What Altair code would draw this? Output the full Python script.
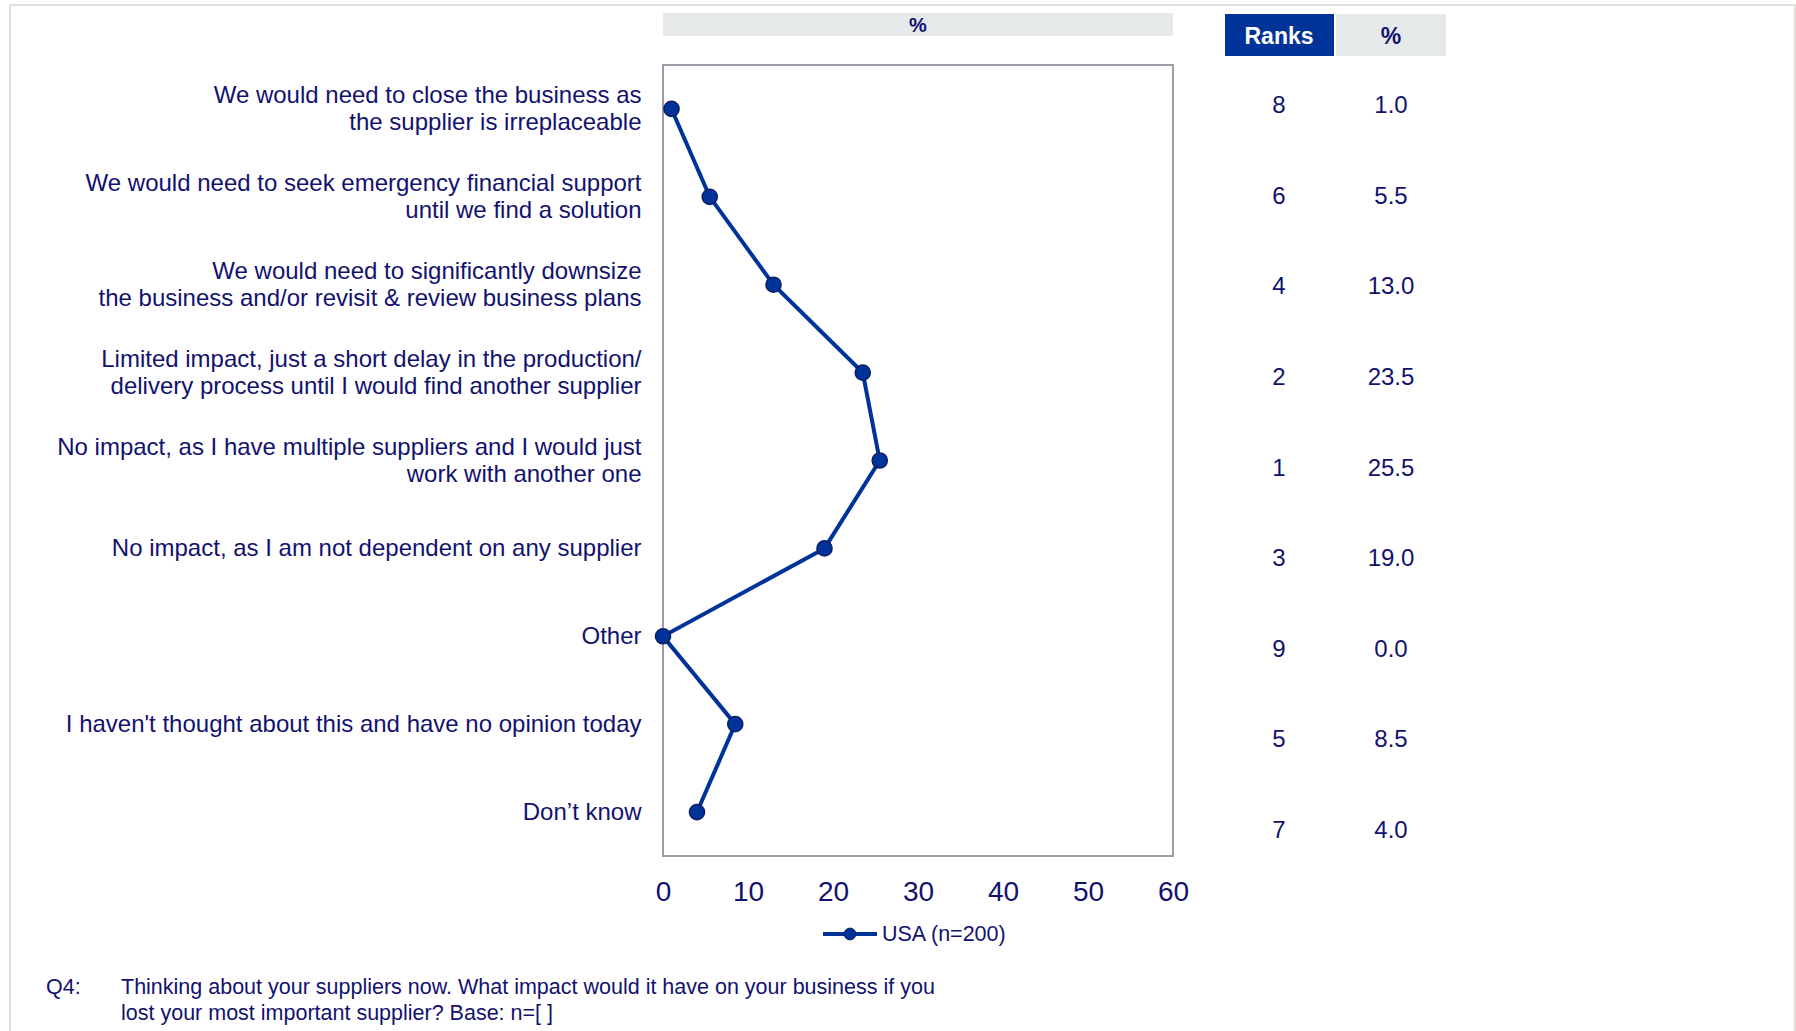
import altair as alt
import pandas as pd

categories = [
    "We would need to close the business as\nthe supplier is irreplaceable",
    "We would need to seek emergency financial support\nuntil we find a solution",
    "We would need to significantly downsize\nthe business and/or revisit & review business plans",
    "Limited impact, just a short delay in the production/\ndelivery process until I would find another supplier",
    "No impact, as I have multiple suppliers and I would just\nwork with another one",
    "No impact, as I am not dependent on any supplier",
    "Other",
    "I haven't thought about this and have no opinion today",
    "Don\u2019t know",
]
pct_values = [1.0, 5.5, 13.0, 23.5, 25.5, 19.0, 0.0, 8.5, 4.0]
ranks = [8, 6, 4, 2, 1, 3, 9, 5, 7]
series_name = "USA (n=200)"
x_ticks = [0, 10, 20, 30, 40, 50, 60]
header_main = "%"
header_rank = "Ranks"
header_pct = "%"
footer_q = "Q4:"
footer_lines = [
    "Thinking about your suppliers now. What impact would it have on your business if you",
    "lost your most important supplier? Base: n=[ ]",
]

df = pd.DataFrame({"cat": categories, "pct": pct_values, "rank": ranks,
                   "idx": list(range(len(categories)))})

NAVY = "#12126e"
BLUE = "#003399"
DOT_STROKE = "#0b1f66"
GRAY_BOX = "#e6e9e9"
FONT = "Liberation Sans"

W, H = 510, 791

yscale = alt.Scale(type="point", domain=categories, padding=0.5)
base = alt.Chart(df)

multi_line_offset = {
    "condition": {"test": "indexof(datum.value, '\\n') >= 0", "value": -13},
    "value": 0,
}

line = base.mark_line(color=BLUE, strokeWidth=4).encode(
    x=alt.X("pct:Q",
            scale=alt.Scale(domain=[0, 60], nice=False, zero=True),
            axis=alt.Axis(values=x_ticks, title=None, grid=False, ticks=False, tickSize=0,
                          domain=False, labelFontSize=28, labelColor=NAVY, labelFont=FONT,
                          labelPadding=22, labelFlush=False, labelOverlap=False)),
    y=alt.Y("cat:N", scale=yscale, sort=categories,
            axis=alt.Axis(title=None, labelExpr="split(datum.label, '\\n')", ticks=False,
                          tickSize=0, domain=False, grid=False, labelFontSize=24,
                          labelColor=NAVY, labelFont=FONT, labelPadding=22,
                          labelLineHeight=27, labelLimit=800, labelAlign="right",
                          labelBaseline="middle", labelOverlap=False,
                          labelOffset=multi_line_offset)),
    order="idx:Q",
)
points = base.mark_circle(size=230, color=BLUE, opacity=1, stroke=DOT_STROKE,
                          strokeWidth=1.5).encode(
    x="pct:Q",
    y=alt.Y("cat:N", scale=yscale, sort=categories),
)
main = alt.layer(line, points)

tscale = alt.Scale(type="point", domain=categories, range=[41, 766], padding=0)
rank_text = base.mark_text(fontSize=24, color=NAVY, font=FONT, baseline="middle").encode(
    x=alt.value(616),
    y=alt.Y("cat:N", scale=tscale, axis=None),
    text="rank:Q",
)
pct_text = base.mark_text(fontSize=24, color=NAVY, font=FONT, baseline="middle").encode(
    x=alt.value(728),
    y=alt.Y("cat:N", scale=tscale, axis=None),
    text=alt.Text("pct:Q", format=".1f"),
)
table = alt.layer(rank_text, pct_text)

one = pd.DataFrame({"k": [0]})

outer = alt.Chart(one).mark_rect(fillOpacity=0, stroke="#e2deda", strokeWidth=2).encode(
    x=alt.value(-653), x2=alt.value(1132), y=alt.value(-60), y2=alt.value(1000))

gray_bar = alt.Chart(one).mark_rect(fill=GRAY_BOX).encode(
    x=alt.value(0), x2=alt.value(W), y=alt.value(-52), y2=alt.value(-29))
gray_bar_text = alt.Chart(pd.DataFrame({"t": [header_main]})).mark_text(
    fontSize=20, fontWeight="bold", color=NAVY, font=FONT, baseline="middle").encode(
    x=alt.value(W / 2), y=alt.value(-39), text="t:N")

rank_box = alt.Chart(one).mark_rect(fill=BLUE).encode(
    x=alt.value(562), x2=alt.value(671), y=alt.value(-51), y2=alt.value(-9))
rank_box_text = alt.Chart(pd.DataFrame({"t": [header_rank]})).mark_text(
    fontSize=23, fontWeight="bold", color="white", font=FONT, baseline="middle").encode(
    x=alt.value(616), y=alt.value(-28), text="t:N")
pct_box = alt.Chart(one).mark_rect(fill=GRAY_BOX).encode(
    x=alt.value(673), x2=alt.value(783), y=alt.value(-51), y2=alt.value(-9))
pct_box_text = alt.Chart(pd.DataFrame({"t": [header_pct]})).mark_text(
    fontSize=23, fontWeight="bold", color=NAVY, font=FONT, baseline="middle").encode(
    x=alt.value(728), y=alt.value(-28), text="t:N")

leg_rule = alt.Chart(one).mark_rule(color=BLUE, strokeWidth=4).encode(
    x=alt.value(160), x2=alt.value(214), y=alt.value(869))
leg_dot = alt.Chart(one).mark_circle(size=140, color=BLUE, opacity=1, stroke=DOT_STROKE,
                                     strokeWidth=1).encode(
    x=alt.value(187), y=alt.value(869))
leg_text = alt.Chart(pd.DataFrame({"t": [series_name]})).mark_text(
    align="left", baseline="middle", fontSize=21.5, color=NAVY, font=FONT).encode(
    x=alt.value(219), y=alt.value(870), text="t:N")

foot_q = alt.Chart(pd.DataFrame({"t": [footer_q]})).mark_text(
    align="left", baseline="middle", fontSize=21.5, color=NAVY, font=FONT).encode(
    x=alt.value(-617), y=alt.value(923), text="t:N")
foot_1 = alt.Chart(pd.DataFrame({"t": [footer_lines[0]]})).mark_text(
    align="left", baseline="middle", fontSize=21.5, color=NAVY, font=FONT).encode(
    x=alt.value(-542), y=alt.value(923), text="t:N")
foot_2 = alt.Chart(pd.DataFrame({"t": [footer_lines[1]]})).mark_text(
    align="left", baseline="middle", fontSize=21.5, color=NAVY, font=FONT).encode(
    x=alt.value(-542), y=alt.value(949), text="t:N")

chart = alt.layer(
    outer, gray_bar, gray_bar_text, rank_box, rank_box_text, pct_box, pct_box_text,
    main, table, leg_rule, leg_dot, leg_text, foot_q, foot_1, foot_2,
).resolve_scale(y="independent").properties(
    width=W, height=H,
    autosize=alt.AutoSizeParams(type="none"),
    padding={"left": 663, "top": 65, "right": 623, "bottom": 175},
    background="white",
).configure_view(stroke="#a09ca8", strokeWidth=2)

chart.save("out.html", embed_options={"renderer": "svg", "actions": False})
